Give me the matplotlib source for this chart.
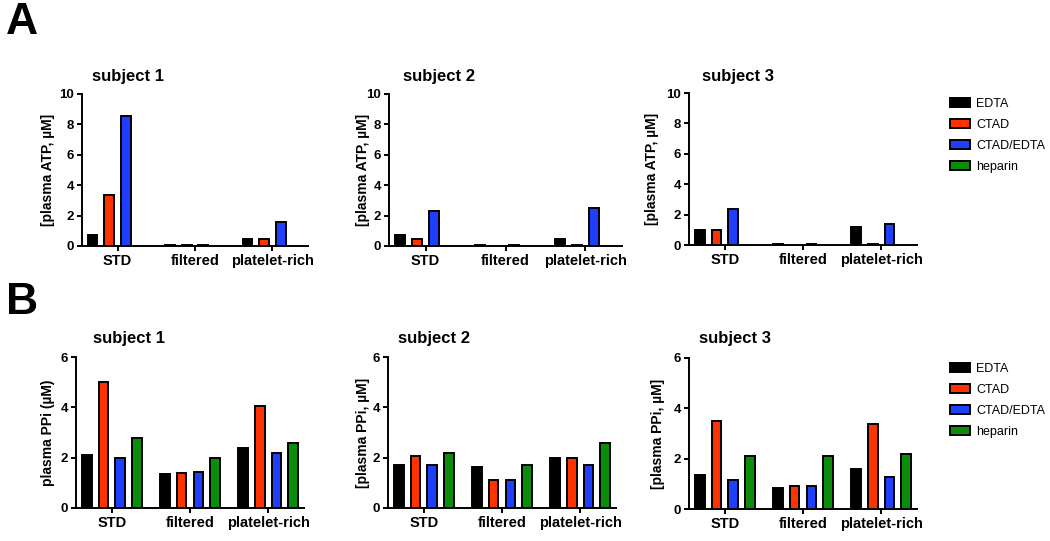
import numpy as np
import matplotlib
matplotlib.use("Agg")
import matplotlib.pyplot as plt
from matplotlib.patches import Patch

plt.rcParams['font.family'] = ['Liberation Sans', 'DejaVu Sans']

groups = ["STD", "filtered", "platelet-rich"]
series = ["EDTA", "CTAD", "CTAD/EDTA", "heparin"]
colors = ["#000000", "#ff3300", "#1f3fff", "#0b8c0b"]
nan = np.nan

# Panel A: plasma ATP (µM); rows = series, columns = groups
atp_s1 = [[0.70, 0.07, 0.48],
          [3.38, 0.07, 0.48],
          [8.57, 0.07, 1.58],
          [nan, nan, nan]]
atp_s2 = [[0.70, 0.07, 0.48],
          [0.48, nan, 0.08],
          [2.29, 0.07, 2.50],
          [nan, nan, nan]]
atp_s3 = [[0.97, 0.07, 1.17],
          [0.96, nan, 0.07],
          [2.37, 0.07, 1.36],
          [nan, nan, nan]]

# Panel B: plasma PPi (µM)
ppi_s1 = [[2.11, 1.35, 2.40],
          [4.99, 1.40, 4.06],
          [1.98, 1.45, 2.19],
          [2.80, 1.98, 2.59]]
ppi_s2 = [[1.69, 1.64, 2.00],
          [2.08, 1.11, 2.00],
          [1.69, 1.13, 1.69],
          [2.18, 1.69, 2.59]]
ppi_s3 = [[1.37, 0.85, 1.59],
          [3.49, 0.90, 3.38],
          [1.16, 0.92, 1.29],
          [2.09, 2.09, 2.17]]

titles = ["subject 1", "subject 2", "subject 3"]
ylabels_A = ["[plasma ATP, µM]"] * 3
ylabels_B = ["plasma PPi (µM)", "[plasma PPi, µM]", "[plasma PPi, µM]"]

W, H = 1050, 541
fig = plt.figure(figsize=(W / 100, H / 100), dpi=100)


def px_axes(x0, y0, x1, y1):
    return fig.add_axes([x0 / W, 1 - y1 / H, (x1 - x0) / W, (y1 - y0) / H])


def draw(ax, data, ymax, yticks, ylabel, labx):
    x = np.arange(len(groups))
    slot = 0.215
    for i, (vals, c) in enumerate(zip(data, colors)):
        ax.bar(x + (i - 1.5) * slot, vals, width=0.125, color=c,
               edgecolor="black", linewidth=1.4, zorder=2)
    ax.set_xlim(-0.46, 2.46)
    ax.set_ylim(0, ymax)
    ax.set_yticks(yticks)
    ax.set_xticks(x)
    ax.set_xticklabels(groups, fontsize=10.5, fontweight="bold")
    for lab in ax.get_yticklabels():
        lab.set_fontweight("bold")
        lab.set_fontsize(9.5)
    ax.spines[["top", "right"]].set_visible(False)
    for s in ["left", "bottom"]:
        ax.spines[s].set_linewidth(1.4)
    ax.tick_params(direction="out", length=3.8, width=1.4, pad=2)
    ax.set_ylabel(ylabel, fontsize=10, fontweight="bold")
    ax.yaxis.set_label_coords(labx, 0.5)


# Row A
axA = [px_axes(82, 94, 308, 246), px_axes(389, 94, 622, 246), px_axes(689, 93, 917, 245)]
labxA = [(55 - 82) / 226, (370 - 389) / 233, (659 - 689) / 228]
for ax, d, yl, lx in zip(axA, [atp_s1, atp_s2, atp_s3], ylabels_A, labxA):
    draw(ax, d, 10, [0, 2, 4, 6, 8, 10], yl, lx)

# Row B
axB = [px_axes(76, 357, 304, 508), px_axes(388, 357, 616, 508), px_axes(689, 358, 917, 509)]
labxB = [(55 - 76) / 228, (370 - 388) / 228, (665 - 689) / 228]
for ax, d, yl, lx in zip(axB, [ppi_s1, ppi_s2, ppi_s3], ylabels_B, labxB):
    draw(ax, d, 6, [0, 2, 4, 6], yl, lx)

# Titles
title_pos = [(92, 77), (403, 77), (702, 77), (93, 339), (398, 339), (699, 339)]
for (tx, ty), t in zip(title_pos, titles * 2):
    fig.text(tx / W, 1 - ty / H, t, fontsize=12, fontweight="bold",
             ha="left", va="center")

# Panel letters
fig.text(6 / W, 1 - 22 / H, "A", fontsize=32, fontweight="bold", ha="left", va="center")
fig.text(6 / W, 1 - 302 / H, "B", fontsize=32, fontweight="bold", ha="left", va="center")

# Legends
handles = [Patch(facecolor=c, edgecolor="black", linewidth=1.4) for c in colors]
for top in (98, 363):
    fig.legend(handles, series, loc="upper left",
               bbox_to_anchor=(950 / W, 1 - top / H), frameon=False,
               fontsize=9, handlelength=1.6, handleheight=0.7,
               handletextpad=0.5, labelspacing=0.72, borderpad=0,
               borderaxespad=0)

fig.savefig("out.png", dpi=100)
